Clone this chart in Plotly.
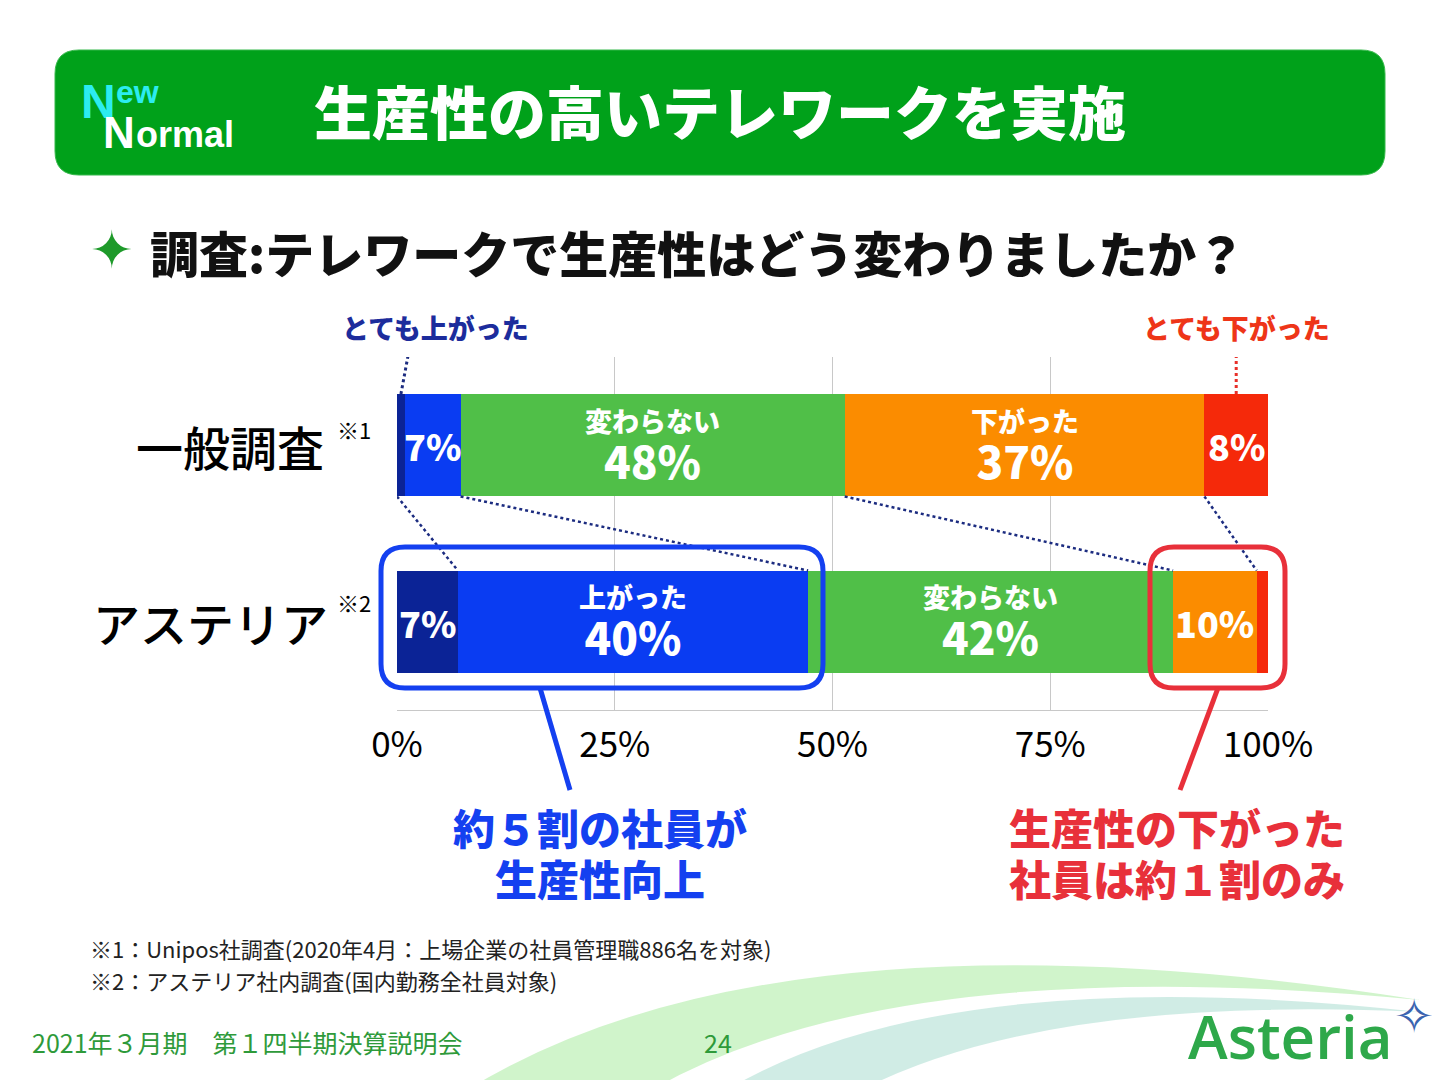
import plotly.graph_objects as go

# survey rows (top to bottom) and the five answer groups
rows = ['一般調査', 'アステリア']
row_notes = ['※1', '※2']
groups = ['とても上がった', '上がった', '変わらない', '下がった', 'とても下がった']
colors = ['#0b2396', '#0a3cf2', '#50bf48', '#fb8c00', '#f5290a']

# segment widths as drawn (%), per row
very_up = [0.9, 7.0]
up = [6.4, 40.2]
same = [44.1, 41.9]
down = [41.3, 9.6]
very_down = [7.3, 1.3]
values = [very_up, up, same, down, very_down]

# labels printed inside the segments: (caption, percent)
labels_top = [None, ('', '7%'), ('変わらない', '48%'), ('下がった', '37%'), ('', '8%')]
labels_bottom = [('', '7%'), ('上がった', '40%'), ('変わらない', '42%'), ('', '10%'), None]

x_ticks = [0, 25, 50, 75, 100]
tick_text = ['0%', '25%', '50%', '75%', '100%']

W, H = 1440, 1080
OFF = 8  # page margin the browser adds around the plot
FONT = 'Noto Sans CJK JP'


def px(x):
    return (x - OFF) / W


def py(y):
    return 1 - (y - OFF) / H


def rounded(x0, y0, x1, y1, r):
    return (f"M {px(x0 + r)},{py(y0)} L {px(x1 - r)},{py(y0)} Q {px(x1)},{py(y0)} {px(x1)},{py(y0 + r)} "
            f"L {px(x1)},{py(y1 - r)} Q {px(x1)},{py(y1)} {px(x1 - r)},{py(y1)} "
            f"L {px(x0 + r)},{py(y1)} Q {px(x0)},{py(y1)} {px(x0)},{py(y1 - r)} "
            f"L {px(x0)},{py(y0 + r)} Q {px(x0)},{py(y0)} {px(x0 + r)},{py(y0)} Z")


def note(x, y, text, size, color, anchor='center', weight='bold', family=FONT):
    return dict(x=px(x), y=py(y), xref='paper', yref='paper', text=text,
                showarrow=False, xanchor=anchor, yanchor='middle',
                font=dict(family=family, size=size, color=color, weight=weight))


fig = go.Figure()
for name, vals, col in zip(groups, values, colors):
    fig.add_trace(go.Bar(y=rows, x=vals, name=name, orientation='h', width=0.58,
                         marker=dict(color=col, line=dict(width=0))))

shapes = []
annotations = []

# header bar
shapes.append(dict(type='path', xref='paper', yref='paper', path=rounded(55, 50, 1385, 175, 24),
                   fillcolor='#00a11a', line=dict(color='#35b84a', width=1), layer='below'))
# background swooshes
shapes.append(dict(type='path', xref='paper', yref='paper', layer='below',
                   path=f"M {px(470)},{py(1088)} Q {px(780)},{py(900)} {px(1420)},{py(1000)} "
                        f"Q {px(900)},{py(950)} {px(655)},{py(1088)} Z",
                   fillcolor='rgba(150,230,140,0.45)', line=dict(width=0)))
shapes.append(dict(type='path', xref='paper', yref='paper', layer='below',
                   path=f"M {px(730)},{py(1088)} Q {px(950)},{py(960)} {px(1420)},{py(1012)} "
                        f"Q {px(1050)},{py(995)} {px(865)},{py(1088)} Z",
                   fillcolor='rgba(120,200,180,0.35)', line=dict(width=0)))

# cumulative boundaries
cum = []
for r in range(len(rows)):
    c, acc = [0], 0
    for v in values:
        acc += v[r]
        c.append(acc)
    cum.append(c)

half = 0.29
y_top, y_bot = 1, 0  # category index of 一般調査 / アステリア
dot = dict(color='#1c2c80', width=2.5, dash='dot')
# dotted connectors between rows
shapes.append(dict(type='line', xref='x', yref='y', x0=cum[0][0], y0=y_top - half,
                   x1=cum[1][1], y1=y_bot + half, line=dot))
for i in [2, 3, 4]:
    shapes.append(dict(type='line', xref='x', yref='y', x0=cum[0][i], y0=y_top - half,
                       x1=cum[1][i], y1=y_bot + half, line=dot))

# pointers to とても上がった / とても下がった
shapes.append(dict(type='line', xref='x', yref='y', x0=cum[0][0] + very_up[0] / 2, y0=y_top + half,
                   x1=1.5, y1=y_top + 0.57, line=dict(color='#1c2c80', width=3, dash='dot')))
shapes.append(dict(type='line', xref='x', yref='y', x0=cum[0][4] + very_down[0] / 2, y0=y_top + half,
                   x1=cum[0][4] + very_down[0] / 2, y1=y_top + 0.57,
                   line=dict(color='#e8302a', width=3, dash='dot')))
annotations.append(note(435, 327, 'とても上がった', 27, '#1c2c9c', weight=900))
annotations.append(note(1236, 327, 'とても下がった', 27, '#ee3518', weight=900))

# hand-drawn highlight boxes and pointers
shapes.append(dict(type='path', xref='paper', yref='paper', path=rounded(381, 547, 823, 688, 24),
                   line=dict(color='#1440f0', width=5)))
shapes.append(dict(type='line', xref='paper', yref='paper', x0=px(540), y0=py(688), x1=px(570), y1=py(790),
                   line=dict(color='#1440f0', width=5)))
shapes.append(dict(type='path', xref='paper', yref='paper', path=rounded(1150, 547, 1285, 688, 24),
                   line=dict(color='#e8303a', width=5)))
shapes.append(dict(type='line', xref='paper', yref='paper', x0=px(1218), y0=py(688), x1=px(1180), y1=py(790),
                   line=dict(color='#e8303a', width=5)))

# segment labels
for r, labs in enumerate([labels_top, labels_bottom]):
    for i, lab in enumerate(labs):
        if lab is None:
            continue
        cap, pct = lab
        xc = (cum[r][i] + cum[r][i + 1]) / 2
        if cap:
            annotations.append(dict(x=xc, y=rows[r], xref='x', yref='y', showarrow=False, yshift=-1,
                                    text=f"<span style='font-size:27px'>{cap}</span><br>"
                                         f"<span style='font-size:44px'>{pct}</span>",
                                    font=dict(family=FONT, size=36, color='white', weight=900)))
        else:
            annotations.append(dict(x=xc, y=rows[r], xref='x', yref='y', text=pct, showarrow=False,
                                    font=dict(family=FONT, size=36, color='white', weight=900)))

# row labels
for r, (name, mark) in enumerate(zip(rows, row_notes)):
    annotations.append(dict(x=px(330 if r else 326), y=name, xref='paper', yref='y', text=name, showarrow=False,
                            xanchor='right', font=dict(family=FONT, size=47, color='black', weight=500)))
    annotations.append(dict(x=px(335), y=name, xref='paper', yref='y', text=mark, showarrow=False,
                            xanchor='left', yshift=16 if r == 0 else 20,
                            font=dict(family=FONT, size=22, color='black')))

# header texts
annotations += [
    note(98, 102, 'N', 48, '#2cecf0', family='Liberation Sans'),
    note(114, 92, 'ew', 32, '#2cecf0', anchor='left', family='Liberation Sans'),
    note(119, 132, 'N', 44, 'white', family='Liberation Sans'),
    note(134, 134, 'ormal', 36, 'white', anchor='left', family='Liberation Sans'),
    note(720, 110, '生産性の高いテレワークを実施', 58, 'white', weight=900),
    note(112, 250, '✦', 52, '#1e9a2a', family='DejaVu Sans'),
    note(148, 252, '調査:テレワークで生産性はどう変わりましたか？', 49, '#111111', anchor='left', weight=900),
    note(600, 826, '約５割の社員が', 42, '#1440f0', weight=900),
    note(600, 877, '生産性向上', 42, '#1440f0', weight=900),
    note(1177, 826, '生産性の下がった', 42, '#e8303a', weight=900),
    note(1177, 877, '社員は約１割のみ', 42, '#e8303a', weight=900),
    note(88, 948, '※1：Unipos社調査(2020年4月：上場企業の社員管理職886名を対象)', 22, '#222222', anchor='left', weight='normal'),
    note(88, 980, '※2：アステリア社内調査(国内勤務全社員対象)', 22, '#222222', anchor='left', weight='normal'),
    note(30, 1042, '2021年３月期　第１四半期決算説明会', 25, '#2e9a3a', anchor='left', weight='normal'),
    note(718, 1042, '24', 25, '#2e9a3a', weight='normal'),
    note(1186, 1036, 'Asteria', 60, '#2ea84a', anchor='left', weight=600, family='Open Sans'),
    note(1414, 1016, '✧', 48, '#3a64b0', family='DejaVu Sans'),
]

fig.update_layout(
    width=W, height=H,
    margin=dict(l=0, r=0, t=0, b=0, pad=0, autoexpand=False),
    paper_bgcolor='white', plot_bgcolor='white',
    barmode='stack', bargap=0, showlegend=False,
    xaxis=dict(domain=[px(397), px(1268)], range=[0, 100], tickvals=x_ticks, ticktext=tick_text,
               showgrid=True, gridcolor='#c8c8c8', gridwidth=1, zeroline=False, automargin=False,
               showline=True, linecolor='#c8c8c8', ticks='', ticklabelstandoff=4,
               tickfont=dict(family=FONT, size=35, color='black')),
    yaxis=dict(domain=[py(710), py(357)], categoryorder='array', categoryarray=rows[::-1], automargin=False,
               range=[-0.5, 1.5], showticklabels=False, showgrid=False, zeroline=False, ticks=''),
    shapes=shapes,
    annotations=annotations,
)

fig.write_html('out.html')
